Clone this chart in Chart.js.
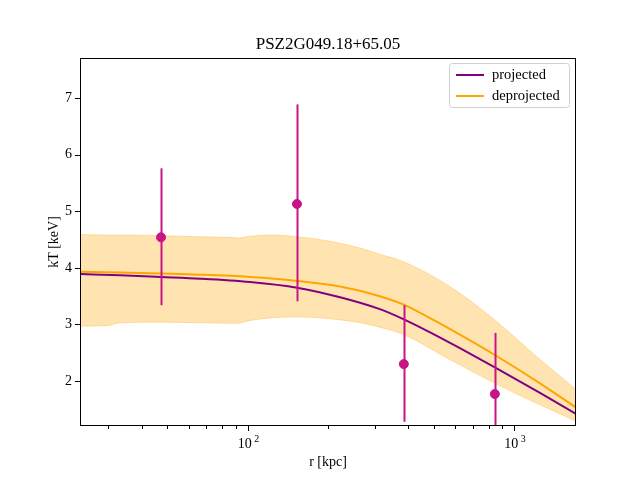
<!DOCTYPE html>
<html>
<head>
<meta charset="utf-8">
<script src="https://cdn.jsdelivr.net/npm/chart.js@4"></script>
<style>
  html, body { margin: 0; padding: 0; background: #fff; }
  #wrap { width: 640px; height: 480px; }
</style>
</head>
<body>
<div id="wrap"><canvas id="chart" width="640" height="480"></canvas></div>
<script>
// Measured temperatures (kpc, keV)
const pointR = [47.3, 153, 385, 845];
const pointT = [4.54, 5.13, 2.30, 1.77];
const pointLo = [3.34, 3.41, 1.28, 0.70];
const pointHi = [5.76, 6.89, 3.34, 2.85];

// Model curves
const curveR = [23.5, 33.2, 47.3, 66.3, 102, 153, 222, 313, 385, 483, 625, 845, 1248, 1703];
const projected = [3.89, 3.87, 3.84, 3.81, 3.75, 3.65, 3.48, 3.27, 3.09, 2.86, 2.58, 2.24, 1.79, 1.42];
const deprojected = [3.93, 3.92, 3.90, 3.88, 3.84, 3.77, 3.67, 3.50, 3.35, 3.11, 2.82, 2.46, 1.96, 1.53];

// Deprojected uncertainty band
const bandR = [23.5, 30, 33.2, 47.3, 66.3, 85, 92, 102, 125, 153, 204, 264, 313, 385, 573, 845, 1248, 1703];
const bandHi = [4.59, 4.58, 4.58, 4.57, 4.55, 4.54, 4.53, 4.56, 4.58, 4.55, 4.47, 4.35, 4.24, 4.11, 3.67, 3.08, 2.38, 1.85];
const bandLo = [2.97, 2.98, 3.03, 3.04, 3.03, 3.02, 3.02, 3.07, 3.12, 3.13, 3.10, 3.03, 2.95, 2.82, 2.38, 1.96, 1.58, 1.29];

const xMajor = [100, 1000];
const xMinor = [30, 40, 50, 60, 70, 80, 90, 200, 300, 400, 500, 600, 700, 800, 900];
const yTicks = [2, 3, 4, 5, 6, 7];

const FONT = '"Liberation Serif", "DejaVu Serif", serif';
const PURPLE = '#800080';
const ORANGE = '#FFA500';
const POINT = '#C71585';

function pairs(xs, ys) {
    return xs.map((x, i) => ({ x: x, y: ys[i] }));
}

// error bars, frame, ticks, labels, legend
const decorPlugin = {
    id: 'decor',
    beforeDatasetDraw(chart, args) {
        if (args.index !== 0) return;
        const xs = chart.scales.x, ys = chart.scales.y, a = chart.chartArea;
        const ctx = chart.ctx;
        ctx.save();
        ctx.beginPath();
        ctx.rect(a.left, a.top, a.right - a.left, a.bottom - a.top);
        ctx.clip();
        ctx.strokeStyle = POINT;
        ctx.lineWidth = 2;
        pointR.forEach((r, i) => {
            const px = Math.round(xs.getPixelForValue(r)) + 0.5;
            ctx.beginPath();
            ctx.moveTo(px, ys.getPixelForValue(pointLo[i]));
            ctx.lineTo(px, ys.getPixelForValue(pointHi[i]));
            ctx.stroke();
        });
        ctx.restore();
    },
    afterDraw(chart) {
        const ctx = chart.ctx, a = chart.chartArea;
        const xs = chart.scales.x, ys = chart.scales.y;
        ctx.save();
        ctx.strokeStyle = '#000';
        ctx.lineWidth = 1;
        ctx.strokeRect(a.left + 0.5, a.top + 0.5, a.right - a.left - 1, a.bottom - a.top - 1);

        ctx.beginPath();
        xMajor.forEach(v => {
            const p = Math.round(xs.getPixelForValue(v)) + 0.5;
            ctx.moveTo(p, a.bottom); ctx.lineTo(p, a.bottom + 5);
        });
        xMinor.forEach(v => {
            const p = Math.round(xs.getPixelForValue(v)) + 0.5;
            ctx.moveTo(p, a.bottom); ctx.lineTo(p, a.bottom + 3);
        });
        yTicks.forEach(v => {
            const p = Math.round(ys.getPixelForValue(v)) + 0.5;
            ctx.moveTo(a.left, p); ctx.lineTo(a.left - 5, p);
        });
        ctx.stroke();

        ctx.fillStyle = '#000';
        ctx.font = '14px ' + FONT;
        ctx.textAlign = 'right';
        ctx.textBaseline = 'middle';
        yTicks.forEach(v => ctx.fillText(String(v), a.left - 8, ys.getPixelForValue(v)));

        ctx.textAlign = 'center';
        ctx.textBaseline = 'alphabetic';
        xMajor.forEach(v => {
            const p = xs.getPixelForValue(v);
            const exp = String(Math.round(Math.log10(v)));
            ctx.font = '14px ' + FONT;
            ctx.fillText('10', p - 3, a.bottom + 22);
            ctx.font = '10px ' + FONT;
            ctx.fillText(exp, p + 9, a.bottom + 16);
        });

        ctx.font = '14px ' + FONT;
        ctx.fillText('r [kpc]', (a.left + a.right) / 2, 466);
        ctx.font = '17px ' + FONT;
        ctx.fillText('PSZ2G049.18+65.05', (a.left + a.right) / 2, 49);

        ctx.save();
        ctx.translate(54, (a.top + a.bottom) / 2);
        ctx.rotate(-Math.PI / 2);
        ctx.font = '14px ' + FONT;
        ctx.textBaseline = 'middle';
        ctx.fillText('kT [keV]', 0, 0);
        ctx.restore();

        // legend
        const lx = 449, ly = 63, lw = 120, lh = 44;
        ctx.beginPath();
        ctx.roundRect(lx + 0.5, ly + 0.5, lw, lh, 3);
        ctx.fillStyle = 'rgba(255,255,255,0.8)';
        ctx.fill();
        ctx.strokeStyle = '#d0d0d0';
        ctx.stroke();
        const entries = [['projected', PURPLE, 75], ['deprojected', ORANGE, 96]];
        ctx.lineWidth = 2;
        ctx.font = '14.5px ' + FONT;
        ctx.textAlign = 'left';
        ctx.textBaseline = 'middle';
        entries.forEach(e => {
            ctx.strokeStyle = e[1];
            ctx.beginPath();
            ctx.moveTo(456, e[2]); ctx.lineTo(484, e[2]);
            ctx.stroke();
            ctx.fillStyle = '#000';
            ctx.fillText(e[0], 492, e[2]);
        });
        ctx.restore();
    }
};

new Chart(document.getElementById('chart'), {
    type: 'scatter',
    data: {
        datasets: [
            {
                label: 'data',
                data: pairs(pointR, pointT),
                backgroundColor: POINT,
                borderColor: POINT,
                pointRadius: 4.5,
                pointHoverRadius: 4.5,
                order: 0
            },
            {
                label: 'deprojected',
                type: 'line',
                data: pairs(curveR, deprojected),
                borderColor: ORANGE,
                borderWidth: 2,
                pointRadius: 0,
                cubicInterpolationMode: 'monotone',
                fill: false,
                order: 1
            },
            {
                label: 'projected',
                type: 'line',
                data: pairs(curveR, projected),
                borderColor: PURPLE,
                borderWidth: 2,
                pointRadius: 0,
                cubicInterpolationMode: 'monotone',
                fill: false,
                order: 2
            },
            {
                label: 'band high',
                type: 'line',
                data: pairs(bandR, bandHi),
                borderColor: 'rgba(255,165,0,0.3)',
                borderWidth: 1,
                pointRadius: 0,
                cubicInterpolationMode: 'monotone',
                fill: false,
                order: 3
            },
            {
                label: 'band low',
                type: 'line',
                data: pairs(bandR, bandLo),
                borderColor: 'rgba(255,165,0,0.3)',
                backgroundColor: 'rgba(255,165,0,0.3)',
                borderWidth: 1,
                pointRadius: 0,
                cubicInterpolationMode: 'monotone',
                fill: '-1',
                order: 4
            }
        ]
    },
    options: {
        responsive: false,
        animation: false,
        layout: { padding: { left: 0, right: 64, top: 58, bottom: 0 } },
        plugins: {
            legend: { display: false },
            tooltip: { enabled: false },
            title: { display: false }
        },
        scales: {
            x: {
                type: 'logarithmic',
                min: 23.5,
                max: 1703,
                grid: { display: false },
                border: { display: false },
                ticks: { display: false },
                afterFit: s => { s.height = 54; }
            },
            y: {
                type: 'linear',
                min: 1.205,
                max: 7.71,
                grid: { display: false },
                border: { display: false },
                ticks: { display: false },
                afterFit: s => { s.width = 80; }
            }
        }
    },
    plugins: [decorPlugin]
});
</script>
</body>
</html>
